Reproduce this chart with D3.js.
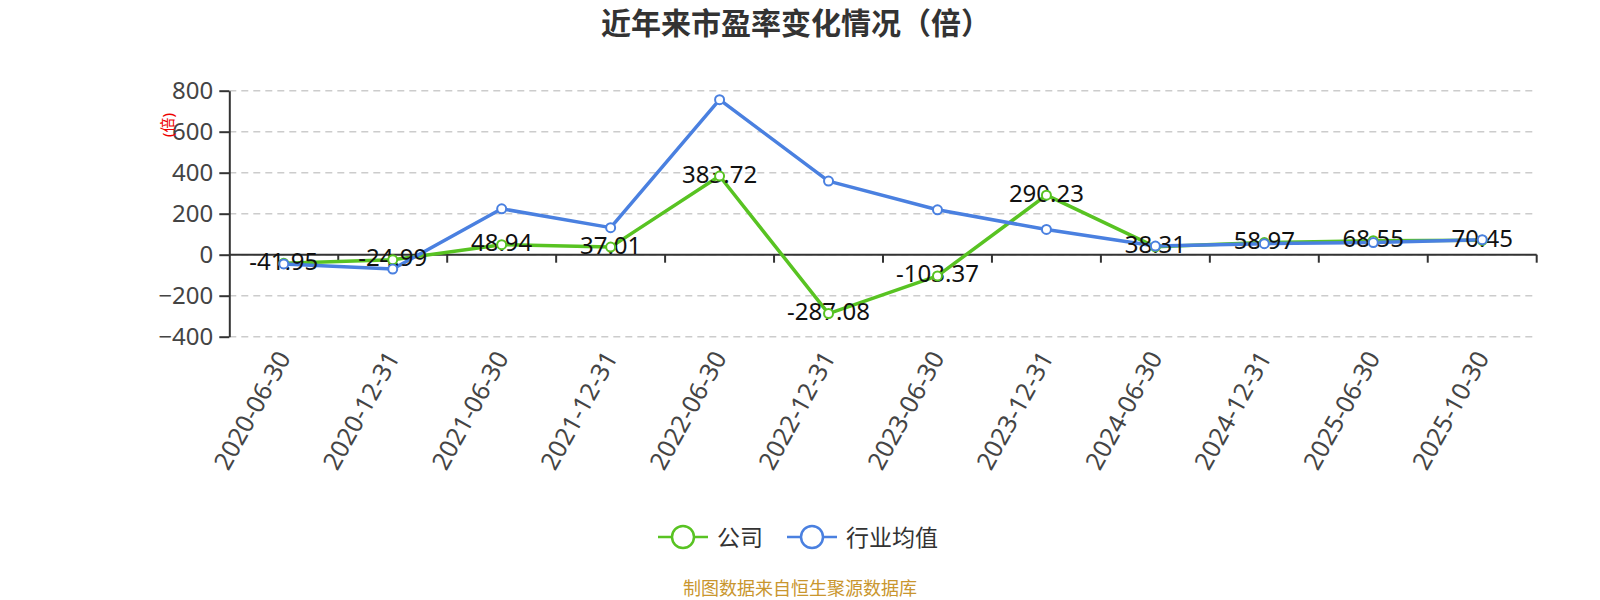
<!DOCTYPE html>
<html>
<head>
<meta charset="utf-8">
<script src="https://cdn.jsdelivr.net/npm/d3@7/dist/d3.min.js"></script>
<style>
  html, body { margin: 0; padding: 0; background: #fff; }
  svg { display: block; font-family: "Noto Sans", "Noto Sans CJK SC", sans-serif; }
</style>
</head>
<body>
<svg id="chart" width="1600" height="600"></svg>
<script>
const dates = ["2020-06-30", "2020-12-31", "2021-06-30", "2021-12-31", "2022-06-30", "2022-12-31",
  "2023-06-30", "2023-12-31", "2024-06-30", "2024-12-31", "2025-06-30", "2025-10-30"];
const company = [-41.95, -24.99, 48.94, 37.01, 383.72, -287.08, -103.37, 290.23, 38.31, 58.97, 68.55, 70.45];
const industry = [-45, -70, 224, 132, 756, 359, 219, 123, 42, 54, 59, 73];
const yTicks = [-400, -200, 0, 200, 400, 600, 800];
const seriesNames = ["公司", "行业均值"];
const colors = ["#58c322", "#4a80e0"];

const svg = d3.select("#chart"),
  width = +svg.attr("width"),
  height = +svg.attr("height");

const plotLeft = 229.3, plotRight = 1536.7, plotTop = 90.7, plotBottom = 336.7;

const x = d3.scaleBand().domain(dates).range([plotLeft, plotRight]).padding(0);
const cx = (d) => x(d) + x.bandwidth() / 2;
const y = d3.scaleLinear().domain([-400, 800]).range([plotBottom, plotTop]);

// title
svg.append("text")
  .attr("x", width / 2 - 4).attr("y", 22)
  .attr("text-anchor", "middle").attr("dominant-baseline", "central")
  .attr("font-size", 30).attr("font-weight", "bold").attr("fill", "#333")
  .text("近年来市盈率变化情况（倍）");

// grid
svg.append("g").selectAll("line")
  .data(yTicks)
  .join("line")
  .attr("x1", plotLeft).attr("x2", plotRight)
  .attr("y1", (d) => y(d)).attr("y2", (d) => y(d))
  .attr("stroke", "#ccc").attr("stroke-width", 1.5)
  .attr("stroke-dasharray", "7,5");

// y axis
const yAxis = svg.append("g")
  .attr("transform", `translate(${plotLeft},0)`)
  .call(d3.axisLeft(y).tickValues(yTicks).tickSize(10).tickPadding(6).tickSizeOuter(0));
yAxis.select(".domain").attr("stroke", "#333").attr("stroke-width", 2);
yAxis.selectAll(".tick line").attr("stroke", "#333").attr("stroke-width", 2);
yAxis.selectAll("text").attr("font-size", 24).attr("fill", "#444")
  .attr("font-family", "Noto Sans, sans-serif");

// y axis name
svg.append("text")
  .attr("transform", "translate(167,125) rotate(-90)")
  .attr("text-anchor", "middle").attr("dominant-baseline", "central")
  .attr("font-size", 15).attr("fill", "#e00")
  .text("(倍)");

// x axis at zero
const xAxis = svg.append("g")
  .attr("transform", `translate(0,${y(0)})`);
xAxis.append("line")
  .attr("x1", plotLeft).attr("x2", plotRight)
  .attr("stroke", "#333").attr("stroke-width", 2);
xAxis.selectAll(".xt")
  .data(dates)
  .join("line")
  .attr("class", "xt")
  .attr("x1", (d) => x(d) + x.bandwidth())
  .attr("x2", (d) => x(d) + x.bandwidth())
  .attr("y1", 0).attr("y2", 8)
  .attr("stroke", "#333").attr("stroke-width", 2);

// x labels
svg.append("g").selectAll("text")
  .data(dates)
  .join("text")
  .attr("transform", (d) => `translate(${cx(d) - 1},${plotBottom + 16}) rotate(-61)`)
  .attr("text-anchor", "end").attr("dominant-baseline", "central")
  .attr("font-size", 25).attr("fill", "#444")
  .text((d) => d);

const line = d3.line().x((d) => cx(d.date)).y((d) => y(d.v));
const series = [company, industry].map((vals, k) => ({
  name: seriesNames[k],
  color: colors[k],
  points: vals.map((v, i) => ({ date: dates[i], v }))
}));

series.forEach((s) => {
  svg.append("path")
    .datum(s.points)
    .attr("d", line)
    .attr("fill", "none")
    .attr("stroke", s.color)
    .attr("stroke-width", 3.5)
    .attr("stroke-linejoin", "round");
});

// data labels (company)
svg.append("g").selectAll("text")
  .data(series[0].points)
  .join("text")
  .attr("x", (d) => cx(d.date))
  .attr("y", (d) => y(d.v) - 3)
  .attr("text-anchor", "middle").attr("dominant-baseline", "central")
  .attr("font-size", 24).attr("fill", "#111")
  .text((d) => d.v.toFixed(2));

series.forEach((s) => {
  svg.append("g").selectAll("circle")
    .data(s.points)
    .join("circle")
    .attr("cx", (d) => cx(d.date))
    .attr("cy", (d) => y(d.v))
    .attr("r", 4.5)
    .attr("fill", "#fff")
    .attr("stroke", s.color)
    .attr("stroke-width", 2);
});

// legend
const legendX = [658, 787];
const legend = svg.append("g");
series.forEach((s, i) => {
  const g = legend.append("g").attr("transform", `translate(${legendX[i]},537)`);
  g.append("line").attr("x1", 0).attr("x2", 50)
    .attr("stroke", s.color).attr("stroke-width", 2.5);
  g.append("circle").attr("cx", 25).attr("r", 11)
    .attr("fill", "#fff").attr("stroke", s.color).attr("stroke-width", 2.5);
  g.append("text").attr("x", 59).attr("dominant-baseline", "central")
    .attr("font-size", 23).attr("fill", "#333")
    .text(s.name);
});

// source
svg.append("text")
  .attr("x", width / 2).attr("y", 588)
  .attr("text-anchor", "middle").attr("dominant-baseline", "central")
  .attr("font-size", 18).attr("fill", "#c9962e")
  .text("制图数据来自恒生聚源数据库");
</script>
</body>
</html>
